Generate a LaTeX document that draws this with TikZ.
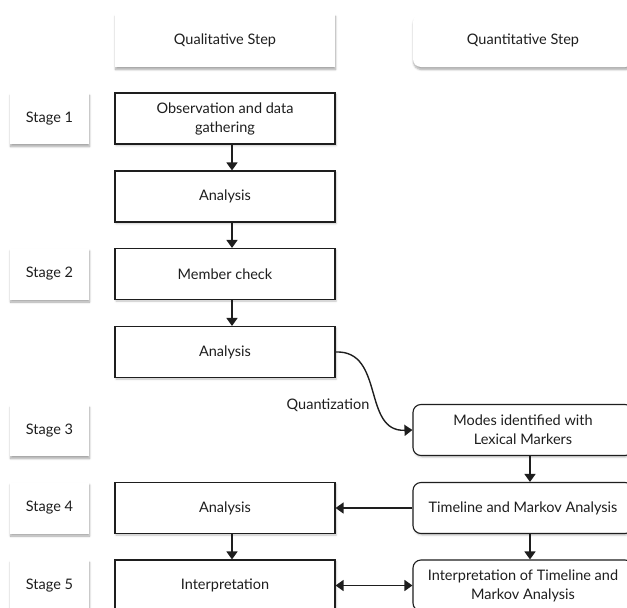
\documentclass[tikz,border=0pt]{standalone}
\usepackage{fontspec}
\setmainfont{Lato}
\usetikzlibrary{arrows.meta,shadows.blur}
\definecolor{ink}{HTML}{1E1E1E}
\tikzset{
  every node/.style={font=\fontsize{14.5}{19}\selectfont, text=ink, align=center, inner sep=0pt},
  tag/.style={fill=white, minimum width=79pt, minimum height=51pt,
    blur shadow={shadow xshift=0.5pt, shadow yshift=-2.5pt, shadow blur steps=6, shadow opacity=35}},
  head/.style={fill=white, minimum width=220pt, minimum height=53pt,
    blur shadow={shadow xshift=0.5pt, shadow yshift=-2.5pt, shadow blur steps=6, shadow opacity=35}},
  qual/.style={draw=ink, line width=1.1pt, fill=white, minimum width=220pt, minimum height=51pt,
    blur shadow={shadow xshift=1pt, shadow yshift=-1.5pt, shadow blur steps=4, shadow opacity=25}},
  quant/.style={qual, rounded corners=8pt},
  flow/.style={draw=ink, line width=1.4pt, -{Triangle[width=11pt,length=8pt]}},
  flow2/.style={draw=ink, line width=1.4pt, {Triangle[width=11pt,length=8pt]}-{Triangle[width=11pt,length=8pt]}}
}
\begin{document}
\begin{tikzpicture}[x=1pt, y=-1pt]
\useasboundingbox (0,0) rectangle (627,608);
\clip (0,0) rectangle (627,608);

% column headers
\node[head] (hqual) at (225,40.5) {Qualitative Step};
\node[head, rounded corners=8pt] (hquant) at (523,40.5) {Quantitative Step};

% stage labels
\node[tag] (s1) at (49.5,118.5) {Stage 1};
\node[tag] (s2) at (49.5,274) {Stage 2};
\node[tag] (s3) at (49.5,430.5) {Stage 3};
\node[tag] (s4) at (49.5,508) {Stage 4};
\node[tag] (s5) at (49.5,585.5) {Stage 5};

% qualitative column
\node[qual] (obs) at (225,118.5) {Observation and data\\gathering};
\node[qual] (an1) at (225,196.5) {Analysis};
\node[qual] (mem) at (225,274) {Member check};
\node[qual] (an2) at (225,352) {Analysis};
\node[qual] (an3) at (225,508) {Analysis};
\node[qual] (int) at (225,585.5) {Interpretation};

% quantitative column
\node[quant] (modes) at (523,430) {Modes identified with\\Lexical Markers};
\node[quant] (tml) at (523,508) {Timeline and Markov Analysis};
\node[quant] (itm) at (523,585.5) {Interpretation of Timeline and\\Markov Analysis};

% vertical connectors
\draw[flow] ([xshift=7pt]obs.south) -- ([xshift=7pt]an1.north);
\draw[flow] ([xshift=7pt]an1.south) -- ([xshift=7pt]mem.north);
\draw[flow] ([xshift=7pt]mem.south) -- ([xshift=7pt]an2.north);
\draw[flow] ([xshift=7pt]an3.south) -- ([xshift=7pt]int.north);
\draw[flow] ([xshift=7pt]modes.south) -- ([xshift=7pt]tml.north);
\draw[flow] ([xshift=7pt]tml.south) -- ([xshift=7pt]itm.north);

% horizontal connectors
\draw[flow] (tml.west) -- (an3.east);
\draw[flow2] (int.east) -- (itm.west);

% quantization
\draw[flow] (an2.east) .. controls (385,350) and (362,432) .. (modes.west);
\node (qlab) at (328,405) {Quantization};
\end{tikzpicture}
\end{document}
